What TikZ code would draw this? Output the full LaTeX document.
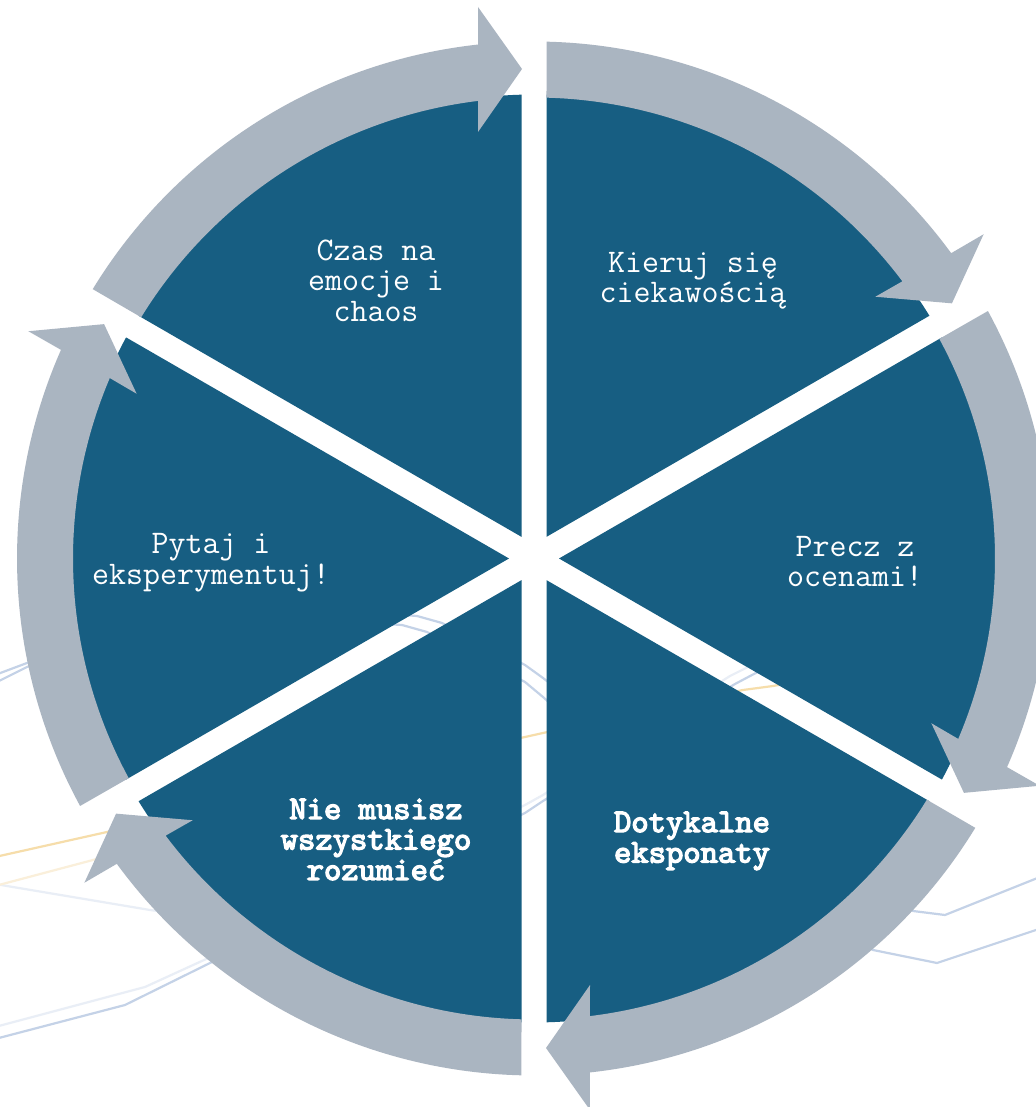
\documentclass[tikz,border=0pt]{standalone}
\usepackage{fontspec}
\newfontfamily\ttboldfake[FakeBold=4]{lmmono10-regular.otf}
\definecolor{sectblue}{RGB}{23,94,130}
\definecolor{ringgray}{RGB}{170,181,193}
\definecolor{lineblue}{RGB}{196,210,231}
\definecolor{lineblueF}{RGB}{233,238,246}
\definecolor{lineorange}{RGB}{246,221,170}
\definecolor{lineorangeF}{RGB}{250,239,218}
\tikzset{
  sector/.style={fill=sectblue, draw=none},
  ringarrow/.style={fill=ringgray, draw=none},
  bgline/.style={line width=2.2pt, line join=miter},
  lbl/.style={text=white, align=center, inner sep=0pt,
    font=\ttfamily\fontsize{33}{30.5}\selectfont},
  lblb/.style={lbl, font=\ttboldfake\fontsize{33}{30.5}\selectfont}
}
\begin{document}
\begin{tikzpicture}[x=1pt,y=1pt]
\fill[white] (0,0) rectangle (1035,1107);
\useasboundingbox (0,0) rectangle (1035,1107);

% decorative background lines (screen coordinates)
\begin{scope}[shift={(0,1107)}, yscale=-1]
  \draw[bgline, lineblue] (-5,675) -- (27,663) -- (200,600) -- (417,616) -- (442,623) -- (525,665) -- (543,678) -- (700,800) -- (913,911) -- (945,915) -- (1045,875);
  \draw[bgline, lineblue] (-5,683) -- (27,667) -- (180,612) -- (402,625) -- (427,632) -- (525,682) -- (543,697) -- (680,820) -- (873,950) -- (937,963) -- (1045,927);
  \draw[bgline, lineblue] (-5,1039) -- (125,1005) -- (210,963) -- (525,813) -- (543,801) -- (735,684) -- (752,675) -- (900,600);
  \draw[bgline, lineblueF] (-5,1027) -- (145,987) -- (215,955) -- (525,805) -- (543,795) -- (730,676) -- (748,667) -- (900,590);
  \draw[bgline, lineblueF] (-5,884) -- (150,910) -- (300,930);
  \draw[bgline, lineorange] (-5,857) -- (107,832) -- (525,737) -- (543,733) -- (743,690) -- (773,686) -- (950,655);
  \draw[bgline, lineorangeF] (-5,886) -- (93,860) -- (300,800);
\end{scope}

\begin{scope}[shift={(534,548.5)}]
  % six sectors
  \foreach \m in {60,0,-60,-120,-180,-240}{
    \fill[sector] (\m:25pt) -- ({\m+28.456}:464pt)
      arc[start angle={\m+28.456}, end angle={\m-28.456}, radius=464pt] -- cycle;
  }
  % six circular arrows
  \foreach \k in {0,...,5}{
    \fill[ringarrow, rotate=-60*\k]
      (148.6:517pt) arc[start angle=148.6, end angle=96.2, radius=517pt]
      -- (-56pt,551.5pt) -- (-12pt,489.5pt) -- (-56pt,426.5pt)
      -- (96.96:461pt) arc[start angle=96.96, end angle=148.45, radius=461pt]
      -- cycle;
  }
\end{scope}

\node[lbl] (czas) at (376,826.5) {Czas na\\emocje i\\chaos};
\node[lbl] (kieruj) at (693,826) {Kieruj się\\ciekawością};
\node[lbl] (precz) at (855,545.5) {Precz z\\ocenami!};
\node[lbl] (pytaj) at (211,544.5) {Pytaj i\\eksperymentuj!};
\node[lblb] (nie) at (376,267.5) {Nie musisz\\wszystkiego\\rozumieć};
\node[lblb] (doty) at (692,266) {Dotykalne\\eksponaty};
\end{tikzpicture}
\end{document}
